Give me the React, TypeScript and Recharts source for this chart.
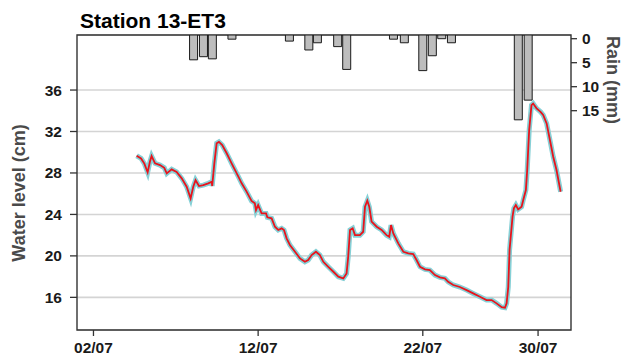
import React from 'react';
import { ComposedChart, Line, Bar, XAxis, YAxis, CartesianGrid, ReferenceArea, Rectangle } from 'recharts';

// Water level (cm) by day of July
const levelDays = [
  4.62, 4.89, 5.09, 5.29, 5.43, 5.53, 5.74, 6.04, 6.3, 6.45, 6.75, 7.05, 7.36, 7.66, 7.9,
  8.06, 8.2, 8.41, 8.67, 8.97, 9.18, 9.21, 9.34, 9.48, 9.62, 9.82, 10.09, 10.39, 10.8, 11.0,
  11.3, 11.6, 11.8, 11.87, 12.0, 12.21, 12.48, 12.56, 12.82, 13.02, 13.22, 13.43, 13.57, 13.73,
  13.93, 14.24, 14.54, 14.84, 15.04, 15.25, 15.51, 15.75, 15.96, 16.26, 16.57, 16.87, 17.17,
  17.37, 17.47, 17.58, 17.74, 17.88, 18.18, 18.38, 18.49, 18.63, 18.75, 18.89, 19.2, 19.5,
  19.8, 19.96, 20.07, 20.21, 20.51, 20.82, 21.12, 21.42, 21.62, 21.83, 22.13, 22.43, 22.74,
  23.04, 23.34, 23.54, 23.85, 24.25, 24.66, 25.06, 25.47, 25.87, 26.18, 26.48, 26.79, 26.99,
  27.09, 27.19, 27.27, 27.45, 27.53, 27.65, 27.79, 28.0, 28.1, 28.26, 28.34, 28.46, 28.6,
  28.7, 28.91, 29.15, 29.31, 29.52, 29.72, 29.92, 30.12, 30.37,
];
const levelValues = [
  29.66, 29.4, 28.9, 28.06, 29.1, 29.63, 28.93, 28.76, 28.5, 27.96, 28.35, 28.1, 27.48, 26.67, 25.55,
  26.67, 27.3, 26.74, 26.83, 27.0, 27.15, 26.74, 28.93, 30.86, 31.0, 30.7, 29.9, 28.93, 27.64, 27.0,
  26.2, 25.3, 25.07, 24.42, 24.9, 24.1, 24.1, 23.72, 23.62, 22.81, 22.5, 22.66, 22.5, 21.69,
  21.05, 20.4, 19.76, 19.43, 19.6, 20.08, 20.4, 20.08, 19.43, 18.95, 18.47, 17.99, 17.83,
  18.3, 19.92, 22.5, 22.66, 22.0, 22.0, 22.33, 24.74, 25.32, 24.74, 23.3, 22.81, 22.5,
  22.0, 21.85, 22.97, 22.17, 21.21, 20.4, 20.24, 20.18, 19.6, 18.95, 18.7, 18.63, 18.15,
  17.93, 17.83, 17.5, 17.19, 17.0, 16.7, 16.38, 16.06, 15.74, 15.74, 15.42, 15.05, 15.0,
  15.42, 17.0, 20.6, 23.78, 24.59, 24.9, 24.49, 24.74, 25.39, 26.35, 28.28, 32.14, 34.55,
  34.7, 34.23, 33.9, 33.59, 32.78, 31.18, 29.57, 28.28, 26.19,
];

// Rain (mm) per half day
const rainDays = [8.08, 8.68, 9.22, 10.41, 13.9, 15.08, 15.6, 16.83, 17.38, 20.22, 20.88, 22.0, 22.58, 23.15, 23.74, 27.8, 28.4];
const rainValues = [4.4, 3.75, 4.2, 0.1, 0.5, 2.35, 0.85, 1.65, 6.4, 0.1, 0.85, 6.65, 3.55, 0.0, 0.85, 16.9, 12.8];

const xTickDays = [2, 12, 22, 29];
const xTickLabels = ['02/07', '12/07', '22/07', '30/07'];
const levelTicks = [16, 20, 24, 28, 32, 36];
const rainTicks = [0, 5, 10, 15];

const X_DOMAIN: [number, number] = [1, 31];
const LEVEL_DOMAIN: [number, number] = [12.85, 41.31];
const RAIN_DOMAIN: [number, number] = [-0.77, 60.69];

type Row = { day: number; level?: number; rain?: number };
const rows: Row[] = [
  ...levelDays.map((d, i) => ({ day: d, level: levelValues[i] })),
  ...rainDays.map((d, i) => ({ day: d, rain: rainValues[i] })),
].sort((a, b) => a.day - b.day);

const FONT = "'Liberation Sans', Arial, Helvetica, sans-serif";
const tickStyle = { fill: '#1a1a1a', fontSize: 15.5, fontWeight: 'bold' as const, fontFamily: FONT };
const tickLine = { stroke: '#333', strokeWidth: 1.3 };

const BAR_W = 8;
const RainBar = (p: any) => {
  if (p == null || !Number.isFinite(p.x) || !Number.isFinite(p.y) || !Number.isFinite(p.height) || !Number.isFinite(p.width)) {
    return <g />;
  }
  const cx = p.x + p.width / 2;
  return (
    <Rectangle
      x={cx - BAR_W / 2}
      y={p.y}
      width={BAR_W}
      height={p.height}
      fill="#bdbdbd"
      stroke="#1a1a1a"
      strokeWidth={1}
    />
  );
};

export default function App() {
  return (
    <div style={{ position: 'absolute', left: 0, top: 0, width: 625, height: 362, background: '#fff', fontFamily: FONT }}>
      <ComposedChart width={625} height={362} data={rows} margin={{ top: 35, right: 0, bottom: 0, left: 0 }}>
        <CartesianGrid yAxisId="level" vertical={false} stroke="#d4d4d4" strokeWidth={1.6} />
        <XAxis
          dataKey="day"
          type="number"
          domain={X_DOMAIN}
          allowDataOverflow
          ticks={xTickDays}
          interval={0}
          tickFormatter={(v: number) => xTickLabels[xTickDays.indexOf(v)]}
          height={32}
          tickSize={6}
          tickMargin={6}
          axisLine={false}
          tickLine={tickLine}
          tick={tickStyle}
        />
        <YAxis
          yAxisId="level"
          orientation="left"
          type="number"
          width={77}
          domain={LEVEL_DOMAIN}
          allowDataOverflow
          ticks={levelTicks}
          interval={0}
          tickSize={7}
          tickMargin={8}
          axisLine={false}
          tickLine={tickLine}
          tick={tickStyle}
        />
        <YAxis
          yAxisId="rain"
          orientation="right"
          type="number"
          width={54}
          reversed
          domain={RAIN_DOMAIN}
          allowDataOverflow
          ticks={rainTicks}
          interval={0}
          tickSize={6}
          tickMargin={5}
          axisLine={false}
          tickLine={tickLine}
          tick={tickStyle}
        />
        <Bar
          yAxisId="rain"
          dataKey={(r: Row) => (r.rain == null ? null : [RAIN_DOMAIN[0], r.rain])}
          barSize={8}
          fill="#bdbdbd"
          stroke="#1a1a1a"
          strokeWidth={1}
          shape={RainBar}
          isAnimationActive={false}
        />
        <Line
          yAxisId="level"
          dataKey="level"
          type="linear"
          stroke="#86d0d6"
          strokeWidth={5}
          dot={false}
          connectNulls
          isAnimationActive={false}
        />
        <Line
          yAxisId="level"
          dataKey="level"
          type="linear"
          stroke="#e8141c"
          strokeWidth={1.8}
          dot={false}
          connectNulls
          isAnimationActive={false}
        />
        <ReferenceArea
          yAxisId="level"
          x1={X_DOMAIN[0]}
          x2={X_DOMAIN[1]}
          y1={LEVEL_DOMAIN[0]}
          y2={LEVEL_DOMAIN[1]}
          fill="none"
          fillOpacity={0}
          stroke="#333"
          strokeWidth={1.4}
        />
      </ComposedChart>
      <div style={{ position: 'absolute', left: 80, top: 9, fontSize: 21, fontWeight: 'bold', color: '#000', lineHeight: '24px', whiteSpace: 'nowrap' }}>
        Station 13-ET3
      </div>
      <div style={{ position: 'absolute', left: 19, top: 193, transform: 'translate(-50%, -50%) rotate(-90deg)', fontSize: 18, fontWeight: 'bold', color: '#4a4a4a', whiteSpace: 'nowrap', lineHeight: '20px' }}>
        Water level (cm)
      </div>
      <div style={{ position: 'absolute', left: 613, top: 80, transform: 'translate(-50%, -50%) rotate(90deg)', fontSize: 18, fontWeight: 'bold', color: '#4a4a4a', whiteSpace: 'nowrap', lineHeight: '20px' }}>
        Rain (mm)
      </div>
    </div>
  );
}
